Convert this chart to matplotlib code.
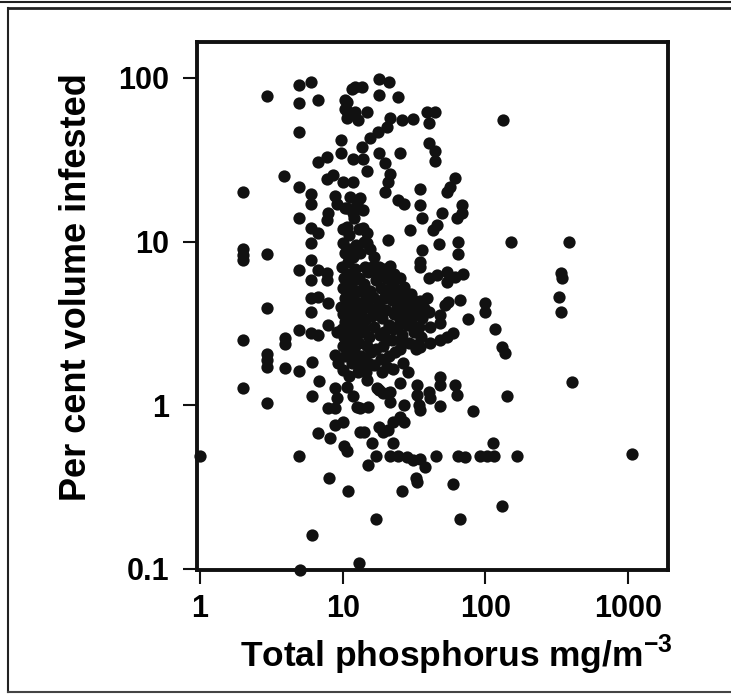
import matplotlib
matplotlib.use("agg")
import matplotlib.pyplot as plt
from matplotlib.lines import Line2D
import numpy as np

plt.rcParams["font.family"] = ["Liberation Sans", "DejaVu Sans"]
plt.rcParams["font.weight"] = "bold"
plt.rcParams["mathtext.fontset"] = "custom"
plt.rcParams["mathtext.rm"] = "Liberation Sans:bold"
plt.rcParams["mathtext.bf"] = "Liberation Sans:bold"

# (total phosphorus mg/m3, per cent volume infested), grouped by region of the plot
low_p = [(1, 0.49), (2, 20), (2, 9.0), (2, 8.3), (2, 7.7), (2, 2.5), (2, 1.27),
         (2.95, 78), (2.95, 8.4), (2.95, 3.9), (2.95, 2.05), (2.95, 1.88), (2.95, 1.7), (2.95, 1.03),
         (3.9, 25), (3.95, 2.57), (3.95, 2.36), (3.95, 1.68),
         (4.9, 90), (4.9, 70), (4.9, 47), (4.9, 21.5), (4.9, 13.9), (4.9, 6.7), (4.9, 2.87),
         (4.9, 1.61), (4.9, 0.49), (5, 0.098),
         (6, 95), (6, 19.5), (6, 17), (6, 12.1), (6, 9.8), (6, 7.7), (6, 5.8), (6, 4.5), (6, 3.7),
         (6, 2.75), (6.1, 1.83), (6.1, 1.14), (6.1, 0.16),
         (6.7, 73), (6.7, 30.5), (6.7, 11.3), (6.7, 6.7), (6.7, 4.6), (6.7, 2.68), (6.8, 1.4), (6.7, 0.67),
         (7.8, 33), (7.8, 24), (7.9, 15), (7.8, 13.5), (7.8, 6.4), (7.8, 5.8), (7.9, 4.2), (7.9, 3.1),
         (7.9, 0.96), (8.2, 0.63), (8, 0.36),
         (8.5, 25.5), (8.8, 19), (9.1, 17), (9.1, 2.8), (8.8, 2.02), (9.3, 1.8), (8.8, 1.27),
         (9.1, 1.1), (8.8, 0.96), (8.8, 0.75)]

upper_p = [(9.8, 42), (9.8, 35), (10, 23), (10.7, 71), (10.7, 63), (10.7, 57), (10.4, 73), (10.4, 65),
           (11.6, 86), (12.2, 88), (12.2, 62), (12.8, 55), (13.6, 88), (14.8, 62),
           (13.6, 38), (11.8, 32), (13.9, 32), (14.8, 27), (11.8, 23), (11.3, 18.7), (13.2, 18.5),
           (13.9, 15.5), (10.4, 16), (10.7, 16), (12.6, 17), (11.8, 15), (10.7, 12.3), (13.9, 12.1),
           (14.8, 11.3), (10, 9.8), (10.9, 8.9), (14.8, 9.8),
           (18, 99), (21, 94), (18, 79), (24.5, 76), (15.5, 43), (17.7, 47), (20.4, 50),
           (21.5, 57), (26, 55), (31, 56), (39, 62), (44, 62), (40, 53),
           (18, 35), (25, 35), (40, 40), (44, 36), (44, 31), (19.7, 30), (21.5, 26), (20.7, 23), (19.7, 20),
           (35, 21), (54, 20), (61, 24.5), (56, 21.5), (24.5, 18), (27, 17), (35, 16.7), (68, 16.7),
           (68, 15), (36, 14), (50, 15), (63, 14), (46, 12.6), (43, 11.8), (29.6, 11.8),
           (64, 10), (64, 8.4), (47, 9.6), (36, 8.9), (35, 7.5), (35, 7.0), (20.7, 10.2), (21.5, 7.1),
           (40, 6.0), (46, 6.2), (54, 6.5), (61, 6.1), (70, 6.3), (54, 5.65), (133, 55)]

core_p = [(10, 12), (10.3, 8.5), (9.9, 7), (10.2, 6), (10, 5.2), (10.4, 4.5), (9.8, 4), (10.1, 3.6),
          (10.3, 3.2), (9.9, 2.9), (10.2, 2.6), (10, 2.3), (10.4, 2.0),
          (11, 11), (11.3, 9), (10.9, 7.5), (11.2, 6.3), (11, 5.5), (11.4, 4.8), (10.8, 4.2), (11.1, 3.8),
          (11.5, 3.4), (11, 3.0), (11.3, 2.7), (10.9, 2.4), (11.2, 2.1), (11.6, 1.8), (11, 1.5),
          (12, 14), (12.4, 9.5), (11.8, 8), (12.2, 6.8), (12, 5.8), (12.5, 5), (11.9, 4.4), (12.3, 3.9),
          (12, 3.5), (12.6, 3.1), (12.1, 2.8), (12.4, 2.5), (11.9, 2.2), (12.3, 1.9), (12.7, 1.6),
          (13, 12), (13.3, 8.5), (13, 6), (13.5, 5), (12.9, 4.2), (13.4, 3.6), (13, 3.2), (13.6, 2.8),
          (13.1, 2.4), (13.5, 2.0), (13, 1.7),
          (14, 10), (14.3, 7), (14, 5.5), (14.6, 4.5), (13.9, 3.9), (14.4, 3.3), (14.2, 2.9), (14.7, 2.3),
          (14, 1.9), (14.5, 1.6),
          (15.5, 9), (15, 6.5), (15.6, 5), (15.2, 4), (16, 3.5), (15.3, 2.6), (15.8, 2.1), (15.1, 1.8),
          (16.5, 8), (17, 5.8), (16.4, 4.6), (17.2, 3.7), (16.6, 3), (17.1, 2.2), (16.5, 1.75),
          (18, 7), (18.6, 5.2), (18, 4.2), (18.8, 3.4), (18.2, 2.7), (19, 2.3), (18.4, 1.9), (18.9, 1.6),
          (20, 6), (20.8, 4.8), (20.2, 3.8), (21, 3.1), (20.4, 2.5), (21.2, 2.0), (20.5, 1.7),
          (22.5, 5.5), (22, 4.4), (23, 3.6), (22.4, 2.9), (23.2, 2.1), (22.6, 1.65),
          (25, 5), (25.8, 4), (25, 3.3), (26, 2.7), (25.2, 2.2), (26.3, 1.8),
          (28, 4.6), (29, 3.9), (28.4, 3.1), (29.3, 2.4), (28.6, 1.6),
          (31, 4.4), (32, 3.6), (31.4, 2.8), (32.4, 2.2), (35, 4.3), (36, 3.4), (35.4, 2.6), (39, 4.5), (40, 3.7),
          (19.5, 4.5), (21.5, 5.2), (23.5, 4.8), (24, 3.9), (26.5, 4.4), (27, 3.5), (30, 4.8), (33, 4.0),
          (30, 3.2), (34, 3.0), (37, 3.9), (24, 3.0), (22, 2.5), (26, 2.4), (19.5, 2.8), (17.5, 6.3),
          (19.5, 6.8), (23, 6.3), (16, 7.0), (25, 6.0), (27, 5.3)]

lower_p = [(10, 1.63), (10, 0.79), (10.2, 0.56), (10.8, 0.52), (10.9, 0.30),
           (10.7, 1.29), (11.8, 1.13), (12.6, 0.97), (13.2, 0.68), (13.2, 0.96), (15, 0.97), (14, 0.68),
           (16, 0.59), (17, 0.49), (15, 0.43), (17, 0.2), (13, 0.108),
           (75, 3.35), (66, 4.4), (55, 4.25), (52, 4.1), (59, 2.75), (54, 2.6), (48, 2.5), (41, 2.4),
           (35, 2.26), (32, 2.33), (48, 3.55), (48, 3.17), (41, 3.0),
           (48, 1.48), (48, 1.33), (61, 1.33), (63, 1.16), (40, 1.2), (33, 1.33), (33, 1.15), (25, 1.37),
           (18, 1.23), (21.5, 1.2), (14.8, 1.42), (41, 1.1), (27, 1.0), (34, 1.0), (35, 0.93), (48, 0.99),
           (19, 1.18), (20.7, 1.18), (21.5, 1.04), (17.4, 1.27),
           (22.5, 0.59), (18, 0.73), (20.7, 0.70), (22.5, 0.79), (25, 0.84), (27, 0.79), (19, 0.68),
           (21.5, 0.49), (24.5, 0.49), (28, 0.48), (31, 0.46), (35, 0.47), (38, 0.42), (32.5, 0.36),
           (33, 0.34), (26, 0.30), (45, 0.49), (59, 0.33), (64, 0.49), (72, 0.48), (66, 0.2)]

high_p = [(99, 4.2), (99, 3.7), (117, 2.9), (131, 2.26), (137, 2.08), (141, 1.14), (150, 10),
          (385, 10), (340, 6.4), (345, 6.0), (330, 4.6), (338, 3.7), (405, 1.38),
          (82, 0.92), (113, 0.59), (92, 0.49), (103, 0.49), (115, 0.49), (167, 0.49), (131, 0.24),
          (1070, 0.5)]

x_ticks = [1, 10, 100, 1000]
y_ticks = [0.1, 1, 10, 100]

fig = plt.figure(figsize=(7.31, 6.95), dpi=100)
ax = fig.add_axes([197 / 731, 1 - 570 / 695, 471 / 731, 528 / 695])

for grp in [low_p, upper_p, core_p, lower_p, high_p]:
    pts = np.array(grp)
    ax.scatter(pts[:, 0], pts[:, 1], s=78, c="#111111", linewidths=0, clip_on=False, zorder=3)

ax.set_xscale("log")
ax.set_yscale("log")
ax.set_xlim(0.953, 1900)
ax.set_ylim(0.098, 166)
ax.set_xticks(x_ticks)
ax.set_xticklabels([str(v) for v in x_ticks])
ax.set_yticks(y_ticks)
ax.set_yticklabels([str(v) for v in y_ticks])
ax.minorticks_off()
ax.tick_params(direction="out", length=10, width=1.5, labelsize=22, color="#111111")
ax.tick_params(axis="x", pad=7)
ax.tick_params(axis="y", pad=10)
for sp in ax.spines.values():
    sp.set_linewidth(2.8)
    sp.set_color("#111111")

fig.text(77 / 731, 1 - 287 / 695, "Per cent volume infested", fontsize=26, fontweight="bold",
         rotation=90, ha="center", va="center")
fig.text(240 / 731, 1 - 667 / 695, r"Total phosphorus mg/m$^{-3}$", fontsize=25.5,
         fontweight="bold", ha="left", va="baseline")

# page frame around the figure
fig.add_artist(Line2D([0, 1], [1 - 2 / 695, 1 - 2 / 695], color="#222222", lw=1.5))
fig.add_artist(Line2D([8 / 731, 1], [1 - 8 / 695, 1 - 8 / 695], color="#222222", lw=2))
fig.add_artist(Line2D([8 / 731, 8 / 731], [1 - 8 / 695, 1 - 692 / 695], color="#222222", lw=1.5))
fig.add_artist(Line2D([8 / 731, 1], [1 - 692 / 695, 1 - 692 / 695], color="#444444", lw=1.5))

fig.savefig("out.png", dpi=100)
